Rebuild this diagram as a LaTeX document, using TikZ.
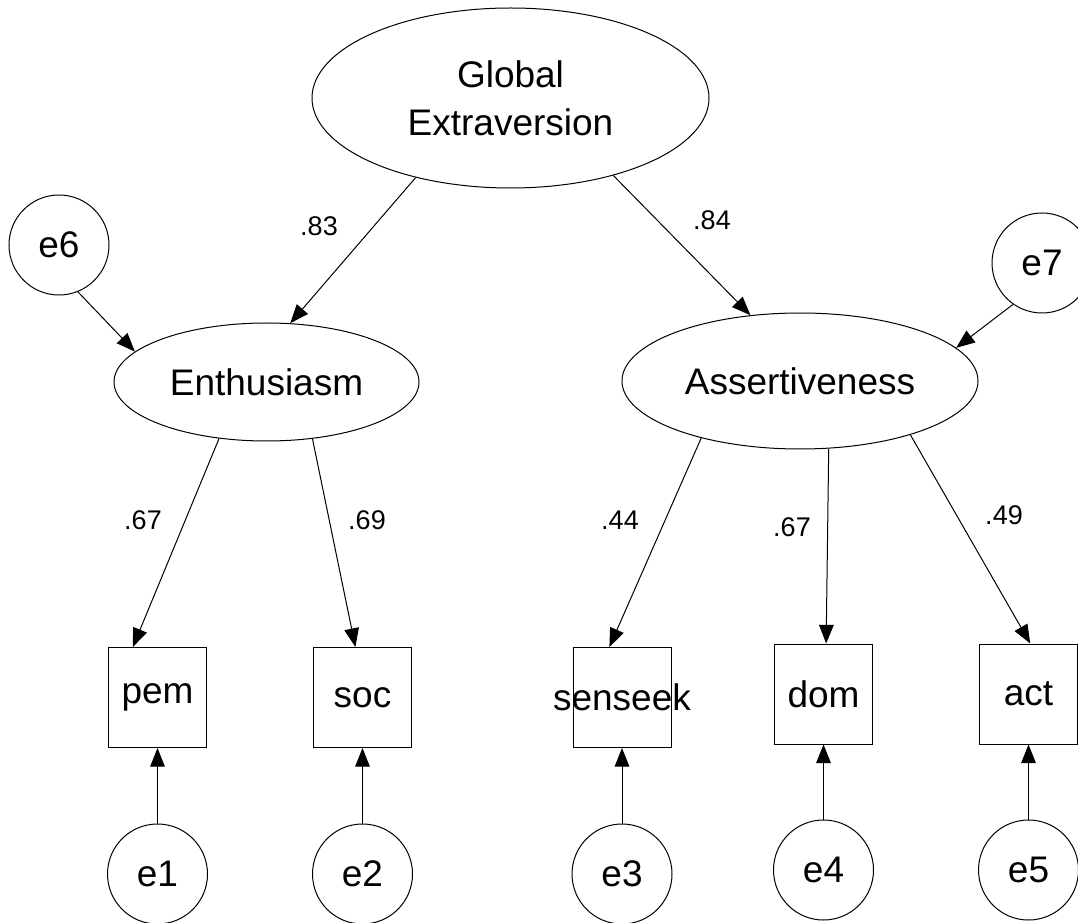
\documentclass[tikz,border=0pt]{standalone}
\usepackage{fontspec}
\setmainfont{Liberation Sans}
\usetikzlibrary{arrows.meta,shapes.geometric}
\begin{document}
\begin{tikzpicture}[x=0.75pt,y=-0.75pt,
  every node/.style={font=\fontsize{27.75pt}{36pt}\selectfont},
  latent/.style={draw,ellipse,inner sep=0pt,line width=0.75pt},
  errterm/.style={draw,circle,inner sep=0pt,minimum size=75pt,line width=0.75pt},
  observed/.style={draw,rectangle,inner sep=0pt,minimum width=73.5pt,minimum height=75pt,line width=0.75pt},
  regpath/.style={line width=0.75pt,-{Triangle[length=14pt,width=11pt]}},
  coef/.style={font=\fontsize{20.25pt}{24pt}\selectfont,inner sep=0pt}]
\useasboundingbox (0,0) rectangle (1078,923);

% latent factors
\node[latent,minimum width=297.75pt,minimum height=135pt,align=center] (glob) at (510.5,98) {Global\\Extraversion};
\node[latent,minimum width=228.75pt,minimum height=88.5pt] (enth) at (266.5,382) {Enthusiasm};
\node[latent,minimum width=267pt,minimum height=102pt] (assert) at (800,381) {Assertiveness};

% disturbances of the first-order factors
\node[errterm] (e6) at (59,245) {e6};
\node[errterm] (e7) at (1042,263) {e7};

% observed indicators
\node[observed] (pem) at (157.5,697.5) {\makebox[0pt]{pem}};
\node[observed] (soc) at (362.5,697.5) {\makebox[0pt]{soc}};
\node[observed] (senseek) at (622,697.5) {\makebox[0pt]{senseek}};
\node[observed] (dom) at (823.5,694) {\makebox[0pt]{dom}};
\node[observed] (act) at (1028.5,694) {\makebox[0pt]{act}};

% measurement errors
\node[errterm] (e1) at (157.5,874) {e1};
\node[errterm] (e2) at (362.5,874) {e2};
\node[errterm] (e3) at (622,874) {e3};
\node[errterm] (e4) at (823.5,870) {e4};
\node[errterm] (e5) at (1028.5,870) {e5};

% structural paths
\draw[regpath] (glob.220) -- (enth.68);
\draw[regpath] (glob.323) -- (assert.127);
\draw[regpath] (e6.292) -- (enth.167);
\draw[regpath] (e7.235) -- (assert.12);

% loadings
\draw[regpath] (enth.230) -- (pem.116);
\draw[regpath] (enth.309) -- (soc.98);
\draw[regpath] (assert.210) -- (senseek.104);
\draw[regpath] (assert.293) -- (dom.87);
\draw[regpath] (assert.334) -- (act.88);

% error paths
\draw[regpath] (e1.north) -- (e1.north |- pem.south);
\draw[regpath] (e2.north) -- (e2.north |- soc.south);
\draw[regpath] (e3.north) -- (e3.north |- senseek.south);
\draw[regpath] (e4.north) -- (e4.north |- dom.south);
\draw[regpath] (e5.north) -- (e5.north |- act.south);

% standardized coefficients
\node[coef] (c83) at (319,226) {.83};
\node[coef] (c84) at (712,220) {.84};
\node[coef] (c67a) at (143,520) {.67};
\node[coef] (c69) at (367,520) {.69};
\node[coef] (c44) at (620,520) {.44};
\node[coef] (c67b) at (792,527) {.67};
\node[coef] (c49) at (1004,515) {.49};
\end{tikzpicture}
\end{document}
